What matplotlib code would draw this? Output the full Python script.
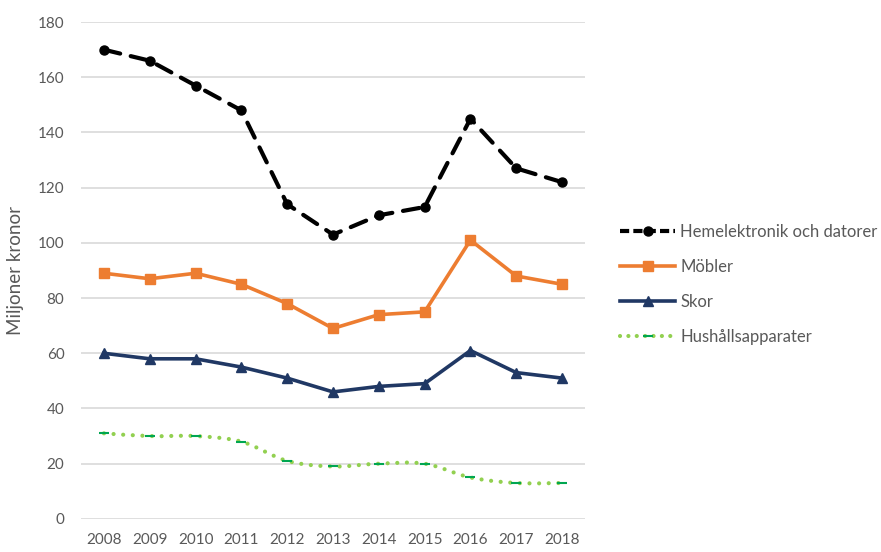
import matplotlib
matplotlib.use("Agg")
import matplotlib.pyplot as plt
from matplotlib.path import Path
from matplotlib.patches import PathPatch
from matplotlib.lines import Line2D
import numpy as np

years = ["2008", "2009", "2010", "2011", "2012", "2013", "2014", "2015", "2016", "2017", "2018"]
hemelektronik = [170, 166, 157, 148, 114, 103, 110, 113, 145, 127, 122]
mobler = [89, 87, 89, 85, 78, 69, 74, 75, 101, 88, 85]
skor = [60, 58, 58, 55, 51, 46, 48, 49, 61, 53, 51]
hushall = [31, 30, 30, 28, 21, 19, 20, 20, 15, 13, 13]

plt.rcParams['font.family'] = ['Lato', 'DejaVu Sans']
TEXT = '#595959'


def smooth_path(x, y):
    # Excel style smoothed line: cubic bezier through every point
    pts = np.column_stack([x, y]).astype(float)
    n = len(pts)
    verts = [pts[0]]
    codes = [Path.MOVETO]
    for i in range(n - 1):
        p0 = pts[max(i - 1, 0)]
        p1 = pts[i]
        p2 = pts[i + 1]
        p3 = pts[min(i + 2, n - 1)]
        verts += [p1 + (p2 - p0) / 6, p2 - (p3 - p1) / 6, p2]
        codes += [Path.CURVE4] * 3
    return Path(verts, codes)


fig = plt.figure(figsize=(8.81, 5.52), dpi=100)
ax = fig.add_axes([0.092, 0.060, 0.572, 0.900])
x = np.arange(len(years))

# Hemelektronik, dashed line with circles
ax.plot(x, hemelektronik, color='black', lw=3, linestyle=(0, (4.0, 2.6)),
        dash_capstyle='round', marker='o', ms=6.5, zorder=4)

ax.plot(x, mobler, color='#ED7D31', lw=2.6, marker='s', ms=7.5, zorder=3)
ax.plot(x, skor, color='#203864', lw=2.6, marker='^', ms=7.5, zorder=3)

# Hushållsapparater, dotted smooth line
ax.add_patch(PathPatch(smooth_path(x, hushall), fill=False, edgecolor='#92D050',
                       lw=3, linestyle=(0, (0.01, 2.3)), capstyle='round', zorder=3))
ax.plot(x, hushall, linestyle='none', marker='_', ms=7, mew=1.5, color='#00A651', zorder=4)

ax.set_xlim(-0.5, len(years) - 0.5)
ax.set_ylim(0, 180)
ax.set_yticks(range(0, 181, 20))
ax.set_xticks(x)
ax.set_xticklabels(years)
ax.grid(axis='y', color='#D9D9D9', lw=1.2)
ax.set_axisbelow(True)
for s in ax.spines.values():
    s.set_visible(False)
ax.tick_params(length=0, labelsize=11, colors=TEXT, pad=12)
ax.tick_params(axis='x', pad=10)
ax.set_ylabel('Miljoner kronor', fontsize=13.5, color=TEXT, labelpad=10)

handles = [
    Line2D([], [], color='black', lw=3, linestyle=(0, (2.2, 1.0)), marker='o', ms=6.5),
    Line2D([], [], color='#ED7D31', lw=2.6, marker='s', ms=7.5),
    Line2D([], [], color='#203864', lw=2.6, marker='^', ms=7.5),
    Line2D([], [], color='#92D050', lw=3, linestyle=(0, (0.01, 2.0)), dash_capstyle='round',
           marker='_', ms=7, mew=1.5, mec='#00A651'),
]
labels = ['Hemelektronik och datorer', 'Möbler', 'Skor', 'Hushållsapparater']
leg = fig.legend(handles, labels, loc='upper left', bbox_to_anchor=(0.687, 0.622),
                 frameon=False, fontsize=12, handlelength=3.3, handletextpad=0.3,
                 labelspacing=1.15, numpoints=1)
for t in leg.get_texts():
    t.set_color(TEXT)

fig.savefig('out.png', dpi=100)
